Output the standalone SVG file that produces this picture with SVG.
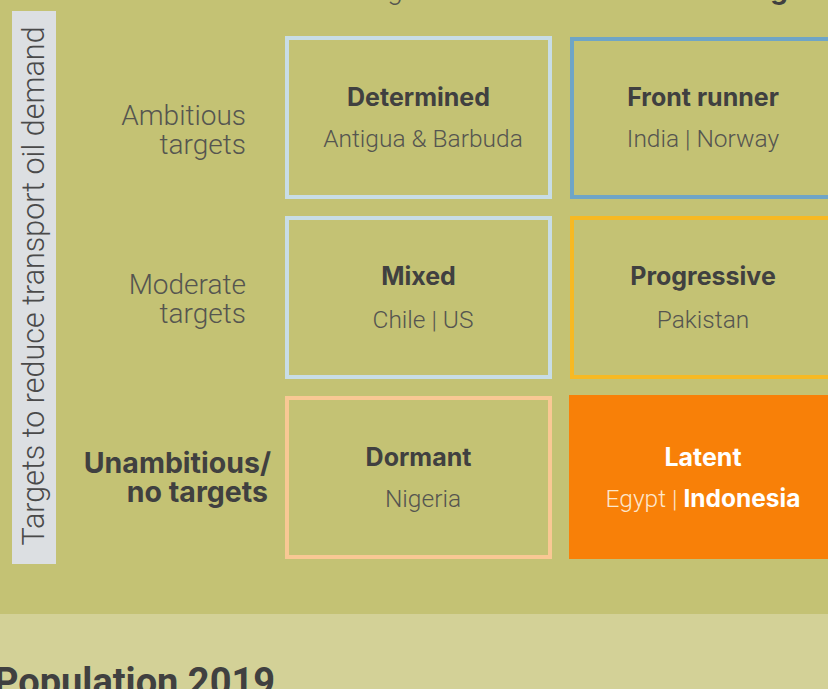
<svg xmlns="http://www.w3.org/2000/svg" width="828" height="689" viewBox="0 0 828 689">
  <style>
    .bold { font-family: Inter, Roboto, "Liberation Sans", sans-serif; font-weight: 700; fill: #404040; }
    .light { font-family: Roboto, "Liberation Sans", sans-serif; font-weight: 300; fill: #555550; }
    .title { font-size: 25px; text-anchor: middle; }
    .sub { font-size: 24.5px; text-anchor: middle; }
    .row { font-size: 28px; text-anchor: end; }
    .rowb { font-size: 28.5px; text-anchor: end; }
    .cell { fill: none; stroke-width: 4; }
    .white { fill: #ffffff; }
  </style>

  <!-- backgrounds -->
  <rect x="0" y="0" width="828" height="614" fill="#c4c274"/>
  <rect x="0" y="614" width="828" height="75" fill="#d3d197"/>

  <!-- descenders of the column heading above the frame -->
  <text class="light" x="395" y="-1" font-size="28" text-anchor="middle">g</text>
  <text class="bold" x="779" y="-1" font-size="28" text-anchor="middle">g</text>

  <!-- vertical axis label -->
  <g id="axis-label">
    <rect x="12" y="11" width="44" height="553" fill="#dcdfe2"/>
    <text class="light" transform="translate(44,286) rotate(-90)" font-size="30.5" text-anchor="middle" style="fill:#4a4a4a">Targets to reduce transport oil demand</text>
  </g>

  <!-- row labels -->
  <g id="row-ambitious">
    <text class="light row" x="246" y="125">Ambitious</text>
    <text class="light row" x="246" y="154">targets</text>
  </g>
  <g id="row-moderate">
    <text class="light row" x="246" y="294">Moderate</text>
    <text class="light row" x="246" y="323">targets</text>
  </g>
  <g id="row-unambitious">
    <text class="bold rowb" x="271" y="473">Unambitious/</text>
    <text class="bold rowb" x="268" y="502">no targets</text>
  </g>

  <!-- matrix cells -->
  <g id="determined">
    <rect class="cell" x="287" y="38" width="263" height="159" stroke="#c8dde6"/>
    <text class="bold title" x="418.5" y="106">Determined</text>
    <text class="light sub" x="423" y="147">Antigua &amp; Barbuda</text>
  </g>
  <g id="front-runner">
    <rect class="cell" x="572" y="39" width="263" height="158" stroke="#6fa5c6"/>
    <text class="bold title" x="703" y="106">Front runner</text>
    <text class="light sub" x="703" y="147">India | Norway</text>
  </g>
  <g id="mixed">
    <rect class="cell" x="287" y="218" width="263" height="159" stroke="#c8dde6"/>
    <text class="bold title" x="418.5" y="285">Mixed</text>
    <text class="light sub" x="423" y="328">Chile | US</text>
  </g>
  <g id="progressive">
    <rect class="cell" x="572" y="218" width="263" height="159" stroke="#f7b923"/>
    <text class="bold title" x="703" y="285">Progressive</text>
    <text class="light sub" x="703" y="328">Pakistan</text>
  </g>
  <g id="dormant">
    <rect class="cell" x="287" y="398" width="263" height="159" stroke="#f9c894"/>
    <text class="bold title" x="418.5" y="466">Dormant</text>
    <text class="light sub" x="423" y="507">Nigeria</text>
  </g>
  <g id="latent">
    <rect x="569" y="395" width="270" height="164" fill="#f88008"/>
    <text class="bold title white" x="703" y="466">Latent</text>
    <text class="sub" x="703" y="507"><tspan font-family="Roboto, 'Liberation Sans', sans-serif" font-weight="300" fill="#fde6cc">Egypt | </tspan><tspan font-family="Inter, Roboto, 'Liberation Sans', sans-serif" font-weight="700" fill="#ffffff">Indonesia</tspan></text>
  </g>

  <!-- next section heading, cut by the frame -->
  <text x="-6" y="695" font-family="Roboto, 'Liberation Sans', sans-serif" font-weight="700" font-size="38" fill="#404040">Population 2019</text>
</svg>
